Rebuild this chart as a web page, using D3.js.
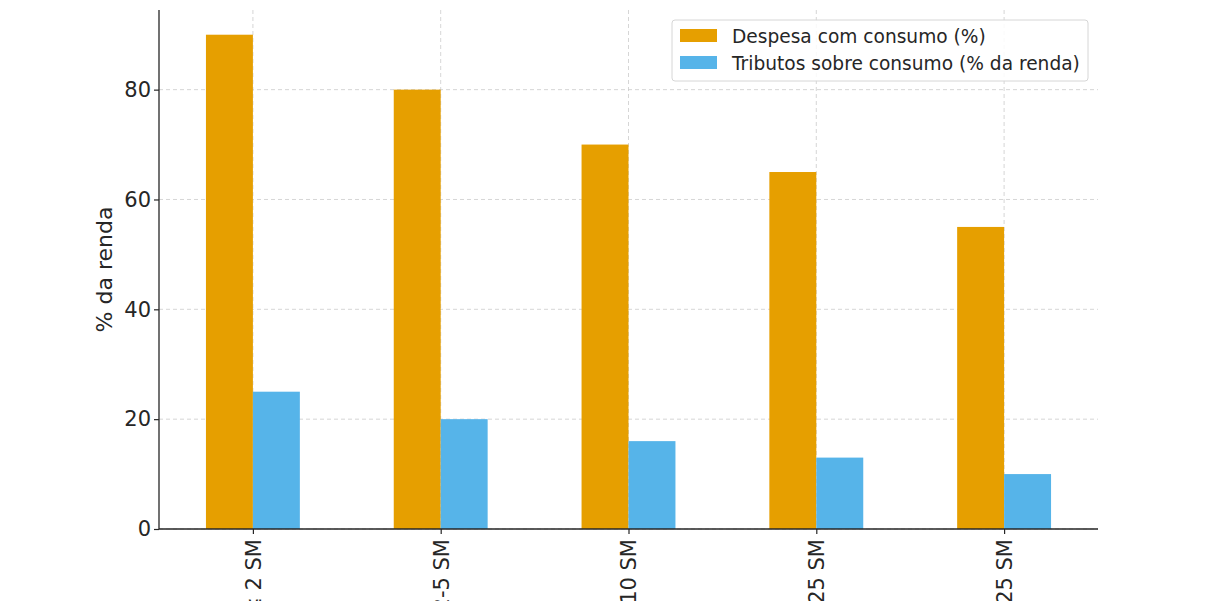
<!DOCTYPE html>
<html>
<head>
<meta charset="utf-8">
<script src="https://cdn.jsdelivr.net/npm/d3@7"></script>
<style>
  body { margin: 0; background: #fff; }
  text { font-family: "DejaVu Sans", sans-serif; fill: #262626; }
</style>
</head>
<body>
<script>
const categories = ["≤ 2 SM", "2-5 SM", "5-10 SM", "10-25 SM", "> 25 SM"];
const seriesNames = ["Despesa com consumo (%)", "Tributos sobre consumo (% da renda)"];
const despesa = [90, 80, 70, 65, 55];
const tributos = [25, 20, 16, 13, 10];
const yTicks = [0, 20, 40, 60, 80];
const colors = ["#E69F00", "#56B4E9"];

var width = 1217, height = 601;
var margin = {left: 159, right: 119, top: 10, bottom: 72};
var plotW = width - margin.left - margin.right,
    plotH = height - margin.top - margin.bottom;

var svg = d3.select("body").append("svg")
  .attr("width", width)
  .attr("height", height);

var g = svg.append("g")
  .attr("transform", `translate(${margin.left} ${margin.top})`);

// matplotlib style: x from -0.5 to n-0.5
var x = d3.scaleLinear()
  .domain([-0.5, categories.length - 0.5])
  .range([0, plotW]);

var y = d3.scaleLinear()
  .domain([0, 94.5])
  .range([plotH, 0]);

// grid
g.append("g").selectAll("line.hgrid")
  .data(yTicks)
  .enter().append("line")
  .attr("x1", 0).attr("x2", plotW)
  .attr("y1", d => y(d)).attr("y2", d => y(d))
  .attr("stroke", "#cccccc").attr("stroke-width", 0.8)
  .attr("stroke-dasharray", "4,3");

g.append("g").selectAll("line.vgrid")
  .data(categories)
  .enter().append("line")
  .attr("x1", (d, i) => x(i)).attr("x2", (d, i) => x(i))
  .attr("y1", 0).attr("y2", plotH)
  .attr("stroke", "#cccccc").attr("stroke-width", 0.8)
  .attr("stroke-dasharray", "4,3");

// bars
var bw = 0.25;
var allSeries = [despesa, tributos];
allSeries.forEach(function(vals, s) {
  g.append("g").selectAll("rect")
    .data(vals)
    .enter().append("rect")
    .attr("x", (d, i) => x(i - bw + s * bw))
    .attr("width", x(bw) - x(0))
    .attr("y", d => y(d))
    .attr("height", d => plotH - y(d))
    .attr("fill", colors[s]);
});

// axes
var yAxis = g.append("g")
  .call(d3.axisLeft(y).tickValues(yTicks).tickSize(5).tickPadding(3));
var xAxis = g.append("g")
  .attr("transform", `translate(0 ${plotH})`)
  .call(d3.axisBottom(x).tickValues(d3.range(categories.length))
    .tickFormat(i => categories[i]).tickSize(5).tickPadding(6));

[yAxis, xAxis].forEach(function(a) {
  a.select(".domain").attr("stroke", "#262626").attr("stroke-width", 1.3);
  a.selectAll(".tick line").attr("stroke", "#262626").attr("stroke-width", 1.2);
  a.selectAll("text").style("font-size", "21px").attr("fill", "#262626")
    .style("font-family", "DejaVu Sans, sans-serif");
});
// no outer tick stubs
yAxis.select(".domain").attr("d", `M0,${plotH}V0`);
xAxis.select(".domain").attr("d", `M0,0H${plotW}`);

xAxis.selectAll(".tick text")
  .attr("text-anchor", "end")
  .attr("dy", "0.35em")
  .attr("transform", "translate(0 10) rotate(-90)")
  .attr("x", 0).attr("y", 0);

// y label
g.append("text")
  .attr("transform", `translate(-47 ${plotH / 2}) rotate(-90)`)
  .attr("text-anchor", "middle")
  .style("font-size", "22px")
  .text("% da renda");

// legend
var lg = g.append("g")
  .attr("transform", `translate(${plotW - 426} 10)`);
lg.append("rect")
  .attr("width", 416).attr("height", 61)
  .attr("rx", 3)
  .attr("fill", "#fff").attr("fill-opacity", 0.85)
  .attr("stroke", "#d6d6d6");
seriesNames.forEach(function(name, i) {
  lg.append("rect")
    .attr("x", 8).attr("y", 9 + i * 27)
    .attr("width", 37).attr("height", 13)
    .attr("fill", colors[i]);
  lg.append("text")
    .attr("x", 60).attr("y", 16 + i * 27)
    .attr("dy", "0.35em")
    .style("font-size", "18.6px")
    .attr("fill", "#333")
    .text(name);
});
</script>
</body>
</html>
